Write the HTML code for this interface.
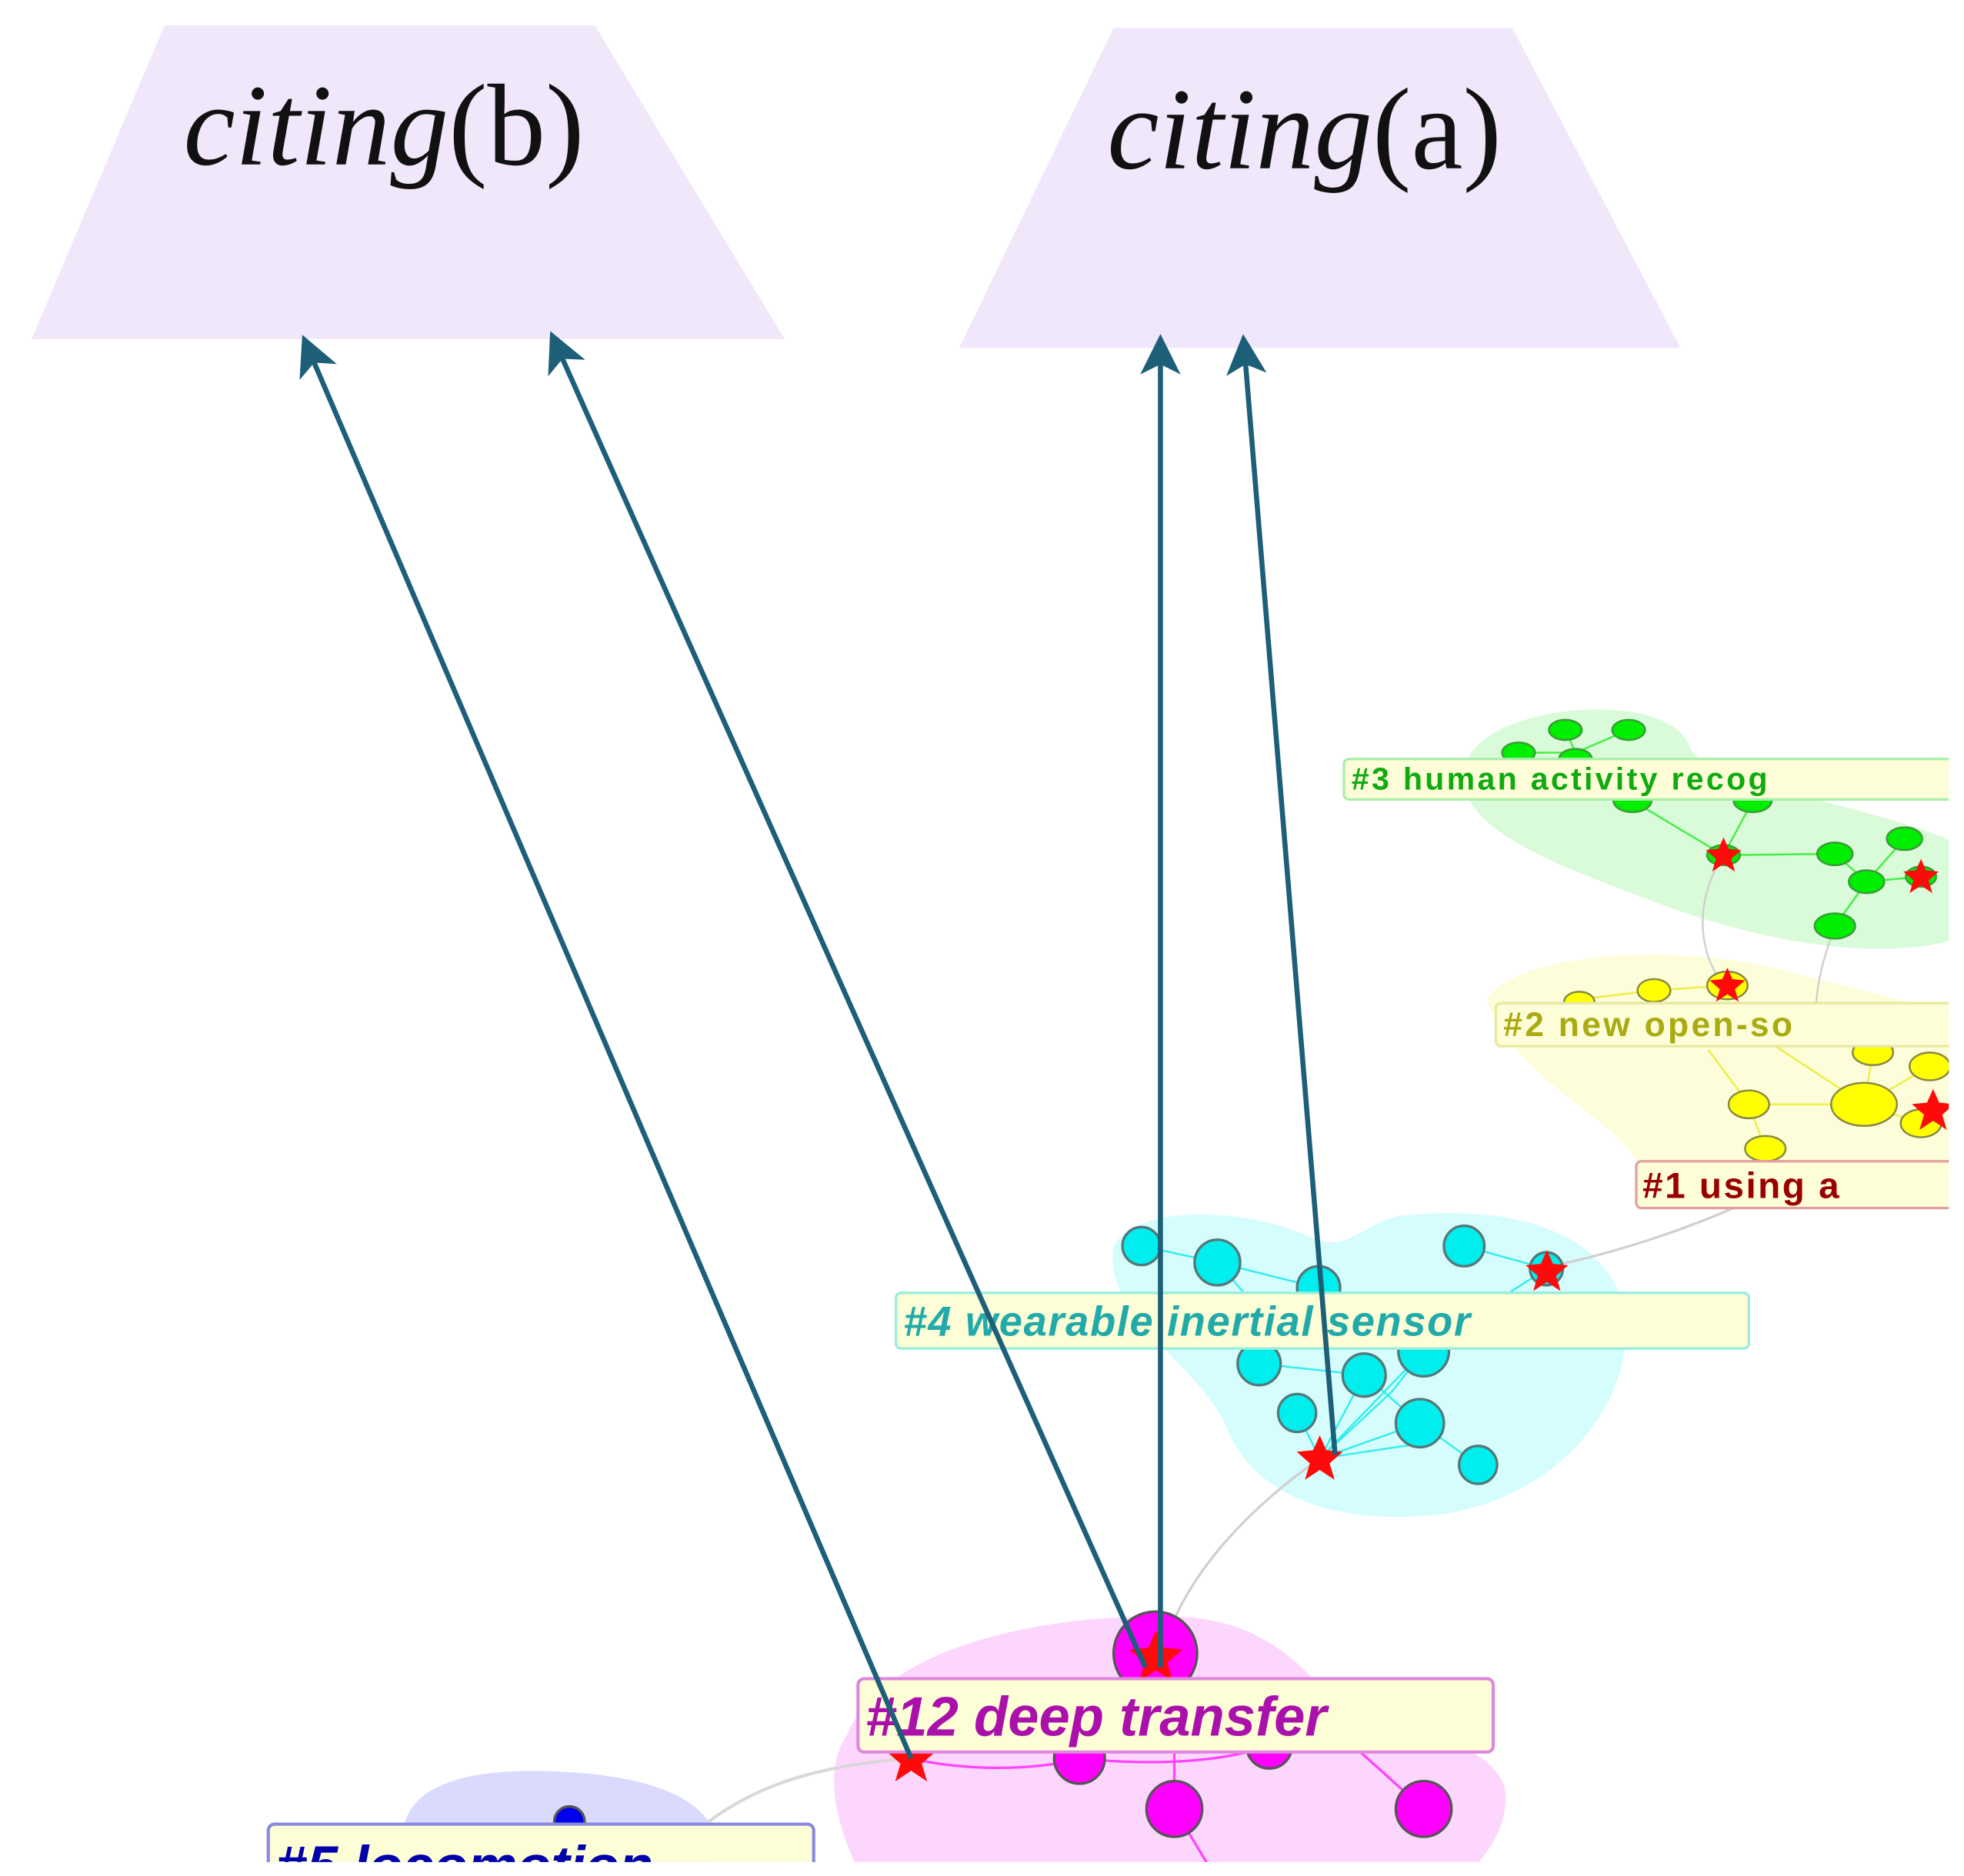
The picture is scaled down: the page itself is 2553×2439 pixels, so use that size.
<!DOCTYPE html>
<html><head><meta charset="utf-8"><style>
html,body{margin:0;padding:0;background:#fff;}
svg{display:block;}
</style></head><body>
<svg width="2553" height="2439" viewBox="0 0 1552 1483" preserveAspectRatio="none" xmlns="http://www.w3.org/2000/svg">
<defs>
<clipPath id="c"><rect x="0" y="0" width="1540" height="1472"/></clipPath>
<marker id="ah" markerWidth="8" markerHeight="8" refX="6" refY="4" orient="auto" markerUnits="strokeWidth"><path d="M0,0 L8,4 L0,8 L2,4 z" fill="#1d5e78"/></marker>
<g id="st"><polygon points="0,-14 4,-5 14,-4 6,3 9,13 0,7 -9,13 -6,3 -14,-4 -4,-5" fill="#ff0a0a"/></g>
</defs>
<rect width="1552" height="1483" fill="#fff"/>
<!-- trapezoids -->
<polygon points="130,20 470,20 620,268 25,268" fill="#f1e7fb"/>
<polygon points="880,22 1195,22 1328,275 758,275" fill="#f1e7fb"/>
<text x="145" y="130" font-family="Liberation Serif, serif" font-size="92" fill="#111"><tspan font-style="italic">citing</tspan>(b)</text>
<text x="875" y="133" font-family="Liberation Serif, serif" font-size="92" fill="#111"><tspan font-style="italic">citing</tspan>(a)</text>
<g clip-path="url(#c)">
<!-- blobs -->
<path d="M1160,600 C1180,555 1320,545 1335,590 C1345,620 1500,640 1552,670 L1552,740 C1500,760 1400,750 1300,710 C1220,680 1140,650 1160,600 Z" fill="#d9fbd9"/>
<path d="M1175,790 C1200,750 1340,745 1420,770 C1500,790 1552,800 1552,820 L1552,930 L1300,930 C1280,880 1200,860 1175,790 Z" fill="#fdfdd9"/>
<path d="M880,985 C900,950 990,955 1040,980 C1070,990 1080,960 1120,960 C1180,955 1270,965 1285,1040 C1290,1120 1220,1190 1130,1198 C1050,1205 990,1180 970,1130 C950,1080 870,1040 880,985 Z" fill="#d6fdfd"/>
<path d="M670,1370 C700,1300 830,1275 930,1278 C1000,1280 1030,1320 1050,1340 C1100,1360 1190,1380 1190,1420 C1190,1450 1170,1470 1160,1483 L680,1483 C660,1440 650,1400 670,1370 Z" fill="#fdd6fd"/>
<path d="M320,1440 C330,1410 370,1400 420,1400 C480,1400 540,1410 560,1440 L560,1483 L320,1483 Z" fill="#d9dafd"/>
<!-- grey links -->
<path d="M920,1300 C940,1240 990,1190 1043,1153" stroke="#d0d0d0" stroke-width="2" fill="none"/>
<path d="M1230,1000 C1300,985 1360,960 1380,950" stroke="#d0d0d0" stroke-width="2" fill="none"/>
<path d="M560,1440 C600,1410 650,1395 720,1390" stroke="#d8d8d8" stroke-width="2.5" fill="none"/>
<path d="M1362,676 C1340,710 1340,750 1362,779" stroke="#d0d0d0" stroke-width="1.5" fill="none"/>
<path d="M1450,732 C1440,760 1435,780 1435,800" stroke="#d0d0d0" stroke-width="1.5" fill="none"/>
<!-- green -->
<g stroke="#44ee44" stroke-width="1.5" fill="none"><path d="M1237,577 L1245,595 L1287,577 M1200,595 L1245,595 M1290,633 L1362,676 L1385,633 M1362,676 L1450,675 L1475,697 L1505,663 M1475,697 L1450,732 M1475,697 L1518,693"/></g>
<g fill="#00ee00" stroke="#3a9a3a" stroke-width="1.5">
<ellipse cx="1200" cy="595" rx="13" ry="8"/><ellipse cx="1237" cy="577" rx="13" ry="8"/><ellipse cx="1287" cy="577" rx="13" ry="8"/><ellipse cx="1245" cy="600" rx="13" ry="8"/>
<ellipse cx="1290" cy="633" rx="15" ry="9"/><ellipse cx="1385" cy="633" rx="15" ry="9"/><ellipse cx="1362" cy="676" rx="13" ry="8"/>
<ellipse cx="1450" cy="675" rx="14" ry="9"/><ellipse cx="1505" cy="663" rx="14" ry="9"/><ellipse cx="1475" cy="697" rx="14" ry="9"/><ellipse cx="1518" cy="693" rx="12" ry="8"/><ellipse cx="1450" cy="732" rx="16" ry="10"/></g>
<use href="#st" x="1362" y="676"/><use href="#st" x="1518" y="693"/>
<!-- yellow -->
<g stroke="#eeee44" stroke-width="1.5" fill="none"><path d="M1248,790 L1307,783 L1365,779 M1382,873 L1473,873 L1525,843 M1473,873 L1480,832 M1382,873 L1395,908 M1473,873 L1518,888 M1350,830 L1382,873 M1400,825 L1473,873"/></g>
<g fill="#ffff00" stroke="#888844" stroke-width="1.5">
<ellipse cx="1248" cy="792" rx="12" ry="8"/><ellipse cx="1307" cy="783" rx="13" ry="9"/><ellipse cx="1365" cy="779" rx="16" ry="11"/>
<ellipse cx="1382" cy="873" rx="16" ry="11"/><ellipse cx="1395" cy="908" rx="16" ry="10"/><ellipse cx="1473" cy="873" rx="26" ry="17"/>
<ellipse cx="1480" cy="832" rx="16" ry="10"/><ellipse cx="1525" cy="843" rx="16" ry="11"/><ellipse cx="1518" cy="888" rx="16" ry="11"/></g>
<use href="#st" x="1365" y="779"/><use href="#st" x="1473" y="873" transform="translate(-240 -170) scale(1.2 1.2) translate(0 0)"/>
<!-- cyan -->
<g stroke="#33eeee" stroke-width="1.5" fill="none"><path d="M902,985 L962,998 L1042,1018 M962,998 L990,1030 M1157,985 L1222,1003 L1180,1030 M995,1078 L1078,1087 L1043,1153 L1125,1068 M1025,1117 L1043,1153 L1122,1125 M1078,1087 L1122,1125 M1043,1153 L1100,1100 L1125,1068 M1122,1125 L1168,1158 M1043,1153 L1130,1140"/></g>
<g fill="#00eeee" stroke="#557777" stroke-width="2">
<circle cx="902" cy="985" r="15"/><circle cx="962" cy="998" r="18"/><circle cx="1042" cy="1018" r="17"/><circle cx="1157" cy="985" r="16"/><circle cx="1222" cy="1003" r="13"/>
<circle cx="995" cy="1078" r="17"/><circle cx="1078" cy="1087" r="17"/><circle cx="1125" cy="1068" r="20"/><circle cx="1025" cy="1117" r="15"/><circle cx="1122" cy="1125" r="19"/><circle cx="1168" cy="1158" r="15"/></g>
<use href="#st" x="1222" y="1005" transform="translate(-244 -201) scale(1.2)"/>
<use href="#st" x="1043" y="1153" transform="translate(-313 -346) scale(1.3)"/>
<!-- magenta -->
<g stroke="#ff44ff" stroke-width="2" fill="none"><path d="M720,1390 C760,1400 820,1400 853,1390 C900,1395 960,1395 1003,1380 M928,1385 L928,1430 L960,1483 M1075,1385 L1125,1430"/></g>
<g fill="#ff00ff" stroke="#555" stroke-width="2">
<circle cx="913" cy="1307" r="33"/><circle cx="853" cy="1390" r="20"/><circle cx="1003" cy="1380" r="18"/><circle cx="928" cy="1430" r="22"/><circle cx="1125" cy="1430" r="22"/></g>
<use href="#st" x="913" y="1310" transform="translate(-456 -655) scale(1.5)"/>
<use href="#st" x="720" y="1390" transform="translate(-288 -556) scale(1.4)"/>
<!-- blue -->
<circle cx="450" cy="1440" r="12" fill="#0000ee" stroke="#555" stroke-width="2"/>
<!-- labels -->
<g font-family="Liberation Sans, sans-serif" font-weight="bold">
<rect x="1062" y="600" width="500" height="32" rx="4" fill="#fdfdd8" stroke="#aaeeaa" stroke-width="2"/>
<text x="1068" y="624" font-size="25" fill="#11aa11" letter-spacing="2">#3 human activity recog</text>
<rect x="1182" y="793" width="380" height="34" rx="4" fill="#fdfdd8" stroke="#e8e8a0" stroke-width="2"/>
<text x="1188" y="819" font-size="27" fill="#aaaa11" letter-spacing="2">#2 new open-so</text>
<rect x="1293" y="918" width="270" height="37" rx="4" fill="#fdfdd8" stroke="#e0a0a0" stroke-width="2"/>
<text x="1298" y="947" font-size="29" fill="#990000" letter-spacing="1.5">#1 using a</text>
<rect x="708" y="1022" width="674" height="44" rx="4" fill="#fdfdd6" stroke="#99eedd" stroke-width="2"/>
<text x="714" y="1056" font-size="33" font-style="italic" fill="#22aaaa" letter-spacing="1">#4 wearable inertial sensor</text>
<rect x="678" y="1327" width="502" height="58" rx="5" fill="#fdfdd6" stroke="#dd88dd" stroke-width="2.5"/>
<text x="684" y="1372" font-size="44" font-style="italic" fill="#aa10aa">#12 deep transfer</text>
<rect x="212" y="1442" width="431" height="60" rx="5" fill="#fdfdd6" stroke="#8888dd" stroke-width="2.5"/>
<text x="218" y="1490" font-size="44" font-style="italic" fill="#0000aa">#5 locomotion</text>
</g>
</g>
<!-- arrows -->
<g stroke="#1d5e78" stroke-width="4" fill="none" marker-end="url(#ah)">
<line x1="720" y1="1390" x2="242" y2="272"/>
<line x1="905" y1="1318" x2="438" y2="269"/>
<line x1="917" y1="1318" x2="917" y2="272"/>
<line x1="1055" y1="1150" x2="983" y2="272"/>
</g>
</svg>
</body></html>
